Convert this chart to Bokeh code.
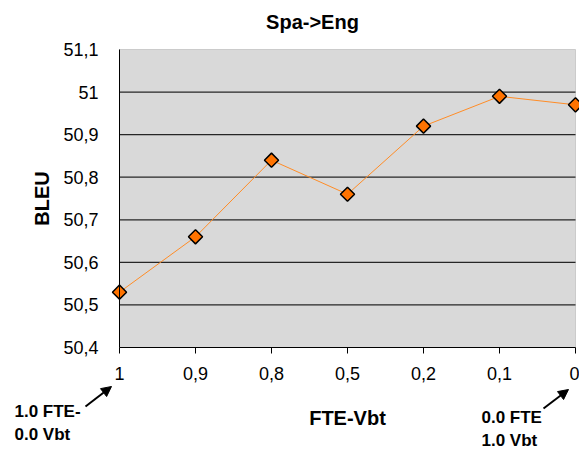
import math
from bokeh.plotting import figure
from bokeh.models import (Range1d, FixedTicker, Label, Arrow, NormalHead, ColumnDataSource,
                          LinearAxis, BoxAnnotation)
from bokeh.embed import file_html
from bokeh.resources import INLINE

categories = ["1", "0,9", "0,8", "0,5", "0,2", "0,1", "0"]
bleu = [50.53, 50.66, 50.84, 50.76, 50.92, 50.99, 50.97]
y_ticks = [50.4, 50.5, 50.6, 50.7, 50.8, 50.9, 51.0, 51.1]
y_tick_labels = ["50,4", "50,5", "50,6", "50,7", "50,8", "50,9", "51", "51,1"]

FONT = "Liberation Sans"
W, H = 579, 453
xs = list(range(len(categories)))
y_lo, y_hi = y_ticks[0], y_ticks[-1]
n = len(categories) - 1

# pixel layout of the plot area inside the canvas
left_px, right_px, top_px, bottom_px = 119, 575, 49, 347
xppu = (right_px - left_px) / n
yppu = (bottom_px - top_px) / (y_hi - y_lo)

p = figure(width=W, height=H, output_backend="svg", toolbar_location=None,
           x_axis_location=None, y_axis_location=None,
           x_range=Range1d(-left_px / xppu, n + (W - right_px) / xppu),
           y_range=Range1d(y_lo - (H - bottom_px) / yppu, y_hi + top_px / yppu),
           min_border=0)
p.grid.visible = False
p.outline_line_color = None
p.background_fill_color = "white"
p.border_fill_color = "white"

# plot area
p.add_layout(BoxAnnotation(left=0, right=n, bottom=y_lo, top=y_hi, fill_color="#d9d9d9",
                           fill_alpha=1, line_color="#7f7f7f", line_width=1, level="underlay"))
grid_y = y_ticks[1:-1]
p.segment(x0=[0] * len(grid_y), x1=[n] * len(grid_y), y0=grid_y, y1=grid_y,
          line_color="#262626", line_width=1.2)

# axes
xaxis = LinearAxis(fixed_location=y_lo, bounds=(0, n), ticker=FixedTicker(ticks=xs),
                   major_label_overrides={i: c for i, c in enumerate(categories)},
                   axis_label="FTE-Vbt")
xaxis.major_tick_out = 6
xaxis.major_tick_in = 0
xaxis.minor_tick_out = 0
xaxis.minor_tick_in = 0
xaxis.major_label_standoff = 13
xaxis.axis_label_standoff = 24

yaxis = LinearAxis(fixed_location=0, bounds=(y_lo, y_hi), ticker=FixedTicker(ticks=y_ticks),
                   major_label_overrides={t: l for t, l in zip(y_ticks, y_tick_labels)},
                   axis_label="BLEU")
yaxis.major_tick_out = 0
yaxis.major_tick_in = 0
yaxis.minor_tick_out = 0
yaxis.minor_tick_in = 0
yaxis.major_label_standoff = 21
yaxis.axis_label_standoff = 7

for ax in (xaxis, yaxis):
    ax.axis_line_color = "black"
    ax.axis_line_width = 1
    ax.major_tick_line_color = "black"
    ax.major_label_text_font = FONT
    ax.major_label_text_font_size = "18px"
    ax.major_label_text_color = "black"
    ax.axis_label_text_font = FONT
    ax.axis_label_text_font_size = "20px"
    ax.axis_label_text_font_style = "bold"
    ax.axis_label_text_color = "black"
p.add_layout(xaxis, "below")
p.add_layout(yaxis, "left")

# data
src = ColumnDataSource(dict(x=xs, y=bleu))
p.line("x", "y", source=src, line_color="#ff8c26", line_width=1)
p.scatter("x", "y", source=src, marker="square", size=10, angle=math.pi / 4,
          fill_color="#ff7300", line_color="black", line_width=1.5)

def dx(px):
    return (px - left_px) / xppu

def dy(py):
    return y_lo - (py - bottom_px) / yppu

# title
p.add_layout(Label(x=dx(312), y=dy(21), text="Spa->Eng", text_font=FONT, text_font_size="20px",
                   text_font_style="bold", text_align="center", text_baseline="middle",
                   text_color="black"))

# annotations below the axis
notes = [(dx(14), dy(411), "1.0 FTE-"), (dx(14), dy(434), "0.0 Vbt"),
         (dx(481), dy(417), "0.0 FTE"), (dx(481), dy(440), "1.0 Vbt")]
for x, y, t in notes:
    p.add_layout(Label(x=x, y=y, text=t, text_font=FONT, text_font_size="17px",
                       text_font_style="bold", text_align="left", text_baseline="middle",
                       text_color="black"))

p.add_layout(Arrow(x_start=dx(85), y_start=dy(406), x_end=dx(111), y_end=dy(386),
                   line_color="black", line_width=2,
                   end=NormalHead(size=10, fill_color="black", line_color="black")))
p.add_layout(Arrow(x_start=dx(543), y_start=dy(408), x_end=dx(568), y_end=dy(389),
                   line_color="black", line_width=2,
                   end=NormalHead(size=10, fill_color="black", line_color="black")))

open("out.html", "w").write(file_html(p, INLINE))
